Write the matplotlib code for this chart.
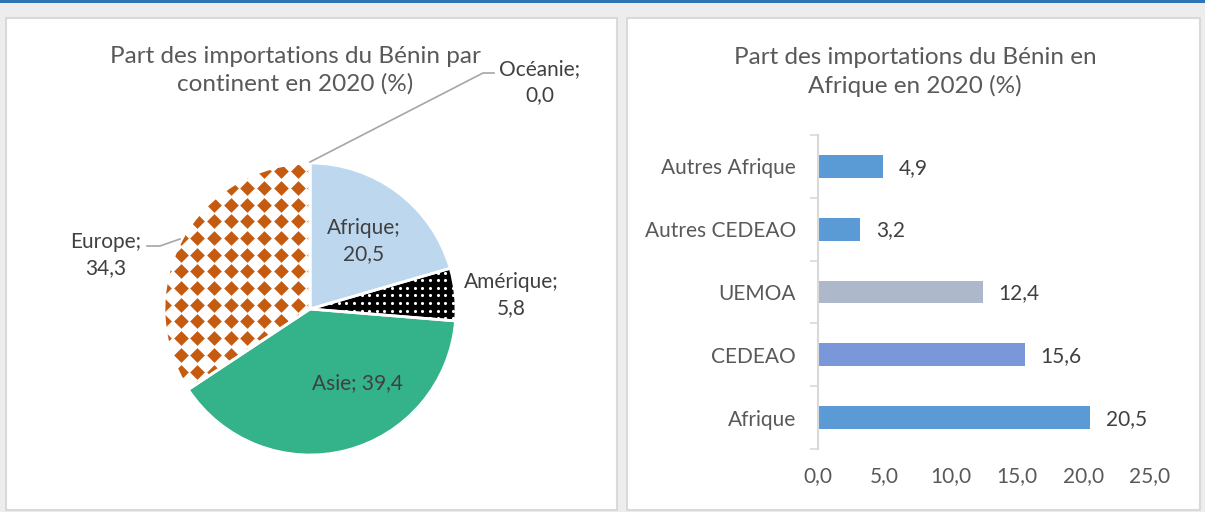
import matplotlib
matplotlib.use("Agg")
from matplotlib import pyplot as plt
from matplotlib.patches import Rectangle, Wedge
import numpy as np

plt.rcParams['font.family'] = ['Lato', 'DejaVu Sans']

# data
continents = ['Afrique', 'Amérique', 'Asie', 'Europe', 'Océanie']
continent_share = [20.5, 5.8, 39.4, 34.3, 0.0]

zones = ['Afrique', 'CEDEAO', 'UEMOA', 'Autres CEDEAO', 'Autres Afrique']
zone_share = [20.5, 15.6, 12.4, 3.2, 4.9]
zone_colors = ['#5b9bd5', '#7a98d9', '#adb9ca', '#5b9bd5', '#5b9bd5']
x_ticks = [0, 5, 10, 15, 20, 25]

W, H = 1205, 512
fig = plt.figure(figsize=(W / 100, H / 100), dpi=100)
fig.patch.set_facecolor('#ededed')


def box(x0, y0, x1, y1):
    # pixel box (from top-left) -> figure fraction rect
    return [x0 / W, 1 - y1 / H, (x1 - x0) / W, (y1 - y0) / H]


def fmt(v):
    return f"{v:.1f}".replace('.', ',')


# white panels + blue top line
for x0, x1 in [(6, 617), (627, 1200)]:
    fig.add_artist(Rectangle((x0 / W, 1 - 510 / H), (x1 - x0) / W, (510 - 18) / H,
                             transform=fig.transFigure, facecolor='white',
                             edgecolor='#d9d9d9', lw=1.5, zorder=0))
fig.add_artist(Rectangle((0, 1 - 2.5 / H), 1, 2.5 / H, transform=fig.transFigure,
                         facecolor='#2e75b6', lw=0))

title_kw = dict(ha='center', va='center', fontsize=17.5, color='#595959', linespacing=1.33)
fig.text(295 / W, 1 - 70 / H, "Part des importations du Bénin par\ncontinent en 2020 (%)", **title_kw)
fig.text(915 / W, 1 - 72 / H, "Part des importations du Bénin en\nAfrique en 2020 (%)", **title_kw)

# ---- pie ----
R, cx, cy = 146.0, 310, 309
ax1 = fig.add_axes(box(6, 18, 617, 510))
ax1.patch.set_alpha(0)
pie_colors = ['#bdd7ee', 'black', '#34b28a', 'white', '#a5a5a5']
wedges, _ = ax1.pie(continent_share, startangle=90, counterclock=False, colors=pie_colors,
                    radius=1, wedgeprops=dict(linewidth=0))
ax1.set_aspect('auto')
ax1.set_xlim((6 - cx) / R, (617 - cx) / R)
ax1.set_ylim((cy - 510) / R, (cy - 18) / R)
ax1.axis('off')

# pattern fills: orange diamonds for Europe, white dots for Amérique
g = np.arange(-1.0, 1.0 + 1e-9, 16.7 / R)
gx, gy = np.meshgrid(g, g)
sc = ax1.scatter(gx.ravel(), gy.ravel(), marker='D', s=56, color='#c55a11', lw=0, zorder=2)
sc.set_clip_path(wedges[3])
g = np.arange(-1.0, 1.0 + 1e-9, 7.6 / R)
gx, gy = np.meshgrid(g, g)
sc = ax1.scatter(gx.ravel(), gy.ravel(), marker='o', s=5, color='white', lw=0, zorder=2)
sc.set_clip_path(wedges[1])

for w in wedges:
    ax1.add_patch(Wedge(w.center, w.r, w.theta1, w.theta2, fill=False,
                        edgecolor='white', lw=2, zorder=3))


def P(x, y):
    return ((x - cx) / R, (cy - y) / R)


lab_kw = dict(ha='center', va='center', fontsize=15, color='#404040', linespacing=1.4, zorder=4)
ax1.text(*P(364, 241), f"{continents[0]};\n{fmt(continent_share[0])}", **lab_kw)
ax1.text(*P(511, 295), f"{continents[1]};\n{fmt(continent_share[1])}", **lab_kw)
ax1.text(*P(358, 383), f"{continents[2]}; {fmt(continent_share[2])}", **lab_kw)
ax1.text(*P(106, 255), f"{continents[3]};\n{fmt(continent_share[3])}", **lab_kw)
ax1.text(*P(540, 82), f"{continents[4]};\n{fmt(continent_share[4])}", **lab_kw)

# leader lines
ax1.plot(*zip(P(310, 162), P(483, 73), P(494, 73)), color='#a6a6a6', lw=1.2, zorder=4)
ax1.plot(*zip(P(147, 246), P(160, 246), P(180, 239)), color='#a6a6a6', lw=1.2, zorder=4)

# ---- bars ----
ax2 = fig.add_axes(box(818, 135, 1150, 449))
ax2.patch.set_alpha(0)
y = np.arange(len(zones))
bars = ax2.barh(y, zone_share, height=0.36, color=zone_colors)
ax2.set_xlim(0, 25)
ax2.set_ylim(-0.5, len(zones) - 0.5)
ax2.set_yticks(y)
ax2.set_yticklabels(zones)
ax2.set_yticks(np.arange(-0.5, len(zones)), minor=True)
ax2.tick_params(axis='y', which='major', length=0, pad=16, labelsize=15, labelcolor='#595959')
ax2.tick_params(axis='y', which='minor', length=6, width=1.2, color='#d9d9d9')
ax2.set_xticks(x_ticks)
ax2.set_xticklabels([fmt(v) for v in x_ticks])
ax2.tick_params(axis='x', length=0, pad=12, labelsize=15, labelcolor='#595959')
for s in ['top', 'right', 'bottom']:
    ax2.spines[s].set_visible(False)
ax2.spines['left'].set_color('#d9d9d9')
ax2.spines['left'].set_linewidth(1.5)

for rect, v in zip(bars, zone_share):
    ax2.annotate(fmt(v), (rect.get_width(), rect.get_y() + rect.get_height() / 2),
                 xytext=(11, -1), textcoords='offset points', ha='left', va='center',
                 fontsize=15, color='#404040')

fig.savefig('out.png', dpi=100, facecolor=fig.get_facecolor())
